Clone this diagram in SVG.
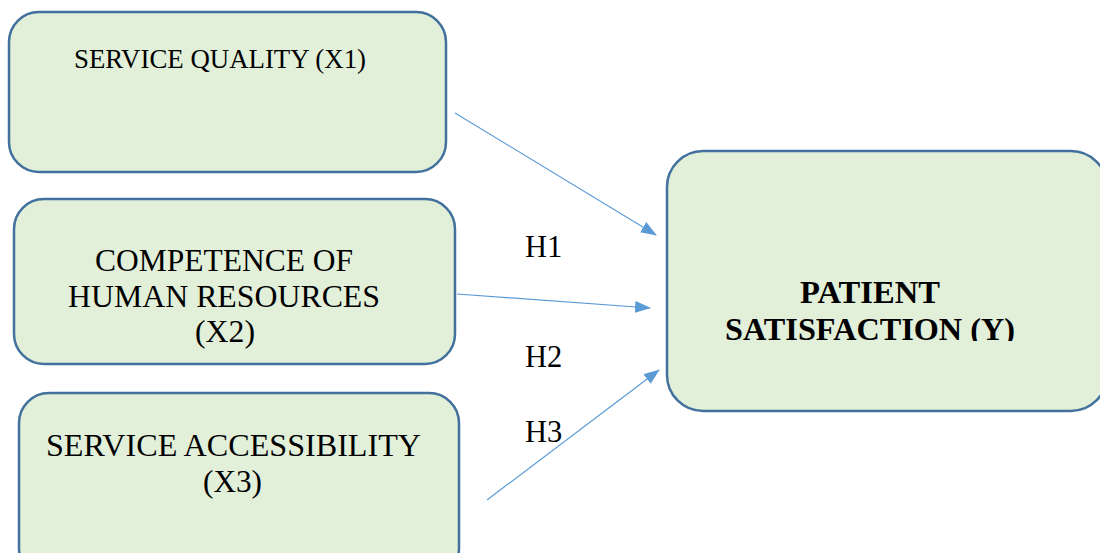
<svg xmlns="http://www.w3.org/2000/svg" width="1100" height="553" viewBox="0 0 1100 553">
<defs>
<style>
.box{fill:#e2efd9;stroke:#41719c;stroke-width:2.5}
.t{font-family:"Liberation Serif","Times New Roman",serif;fill:#000;text-anchor:middle}
.n{font-size:31px}
.b{font-size:31px;font-weight:bold}
.h{font-family:"Liberation Serif","Times New Roman",serif;font-size:30.5px;fill:#000}
.c{stroke:#5b9bd5;stroke-width:1.2;fill:none;marker-end:url(#ah)}
</style>
<marker id="ah" markerWidth="16" markerHeight="12" refX="15" refY="6" orient="auto" markerUnits="userSpaceOnUse">
<path d="M0,0 L16,6 L0,12 Z" fill="#5b9bd5"/>
</marker>
<clipPath id="yclip"><rect x="660" y="140" width="440" height="201"/></clipPath>
</defs>
<rect width="1100" height="553" fill="#fff"/>
<g id="x1">
<rect class="box" x="9" y="12" width="437" height="160" rx="30"/>
<text class="t" x="220" y="68" style="font-size:27px" textLength="292" lengthAdjust="spacingAndGlyphs">SERVICE QUALITY (X1)</text>
</g>
<g id="x2">
<rect class="box" x="14" y="199" width="441" height="165" rx="30"/>
<text class="t n" x="224" y="271" textLength="258" lengthAdjust="spacingAndGlyphs">COMPETENCE OF</text>
<text class="t n" x="224" y="307" textLength="312" lengthAdjust="spacingAndGlyphs">HUMAN RESOURCES</text>
<text class="t n" x="225" y="342" textLength="60" lengthAdjust="spacingAndGlyphs">(X2)</text>
</g>
<g id="x3">
<rect class="box" x="19" y="393" width="440" height="185" rx="30"/>
<text class="t n" x="233.5" y="456" textLength="375" lengthAdjust="spacingAndGlyphs">SERVICE ACCESSIBILITY</text>
<text class="t n" x="232.5" y="492" textLength="59" lengthAdjust="spacingAndGlyphs">(X3)</text>
</g>
<g id="y">
<rect class="box" x="667" y="151" width="440" height="260" rx="36"/>
<text class="t b" x="870" y="303" textLength="140" lengthAdjust="spacingAndGlyphs">PATIENT</text>
<text class="t b" x="870" y="340" clip-path="url(#yclip)" textLength="290" lengthAdjust="spacingAndGlyphs">SATISFACTION (Y)</text>
</g>
<g id="connectors">
<line class="c" x1="455" y1="113" x2="656" y2="235"/>
<line class="c" x1="457" y1="294" x2="650" y2="308"/>
<line class="c" x1="487" y1="500" x2="659" y2="370"/>
<text class="h" x="525" y="257">H1</text>
<text class="h" x="525" y="367">H2</text>
<text class="h" x="525" y="442">H3</text>
</g>
</svg>
